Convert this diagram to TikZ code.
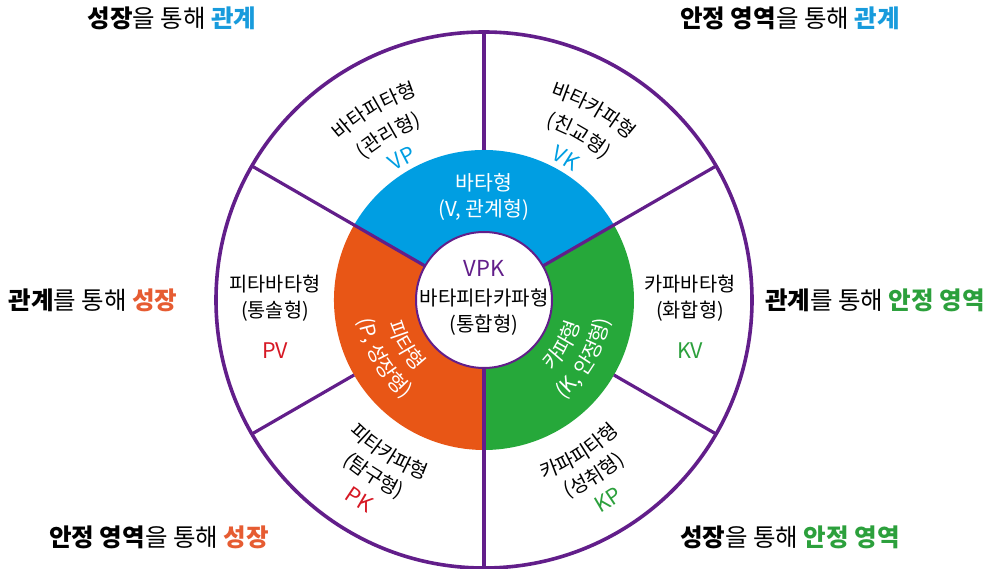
\documentclass[tikz,border=0pt]{standalone}
\usepackage{fontspec}
\setmainfont{Noto Sans CJK KR}
\usetikzlibrary{decorations.text}
\definecolor{vpurple}{RGB}{98,30,138}
\definecolor{vblue}{RGB}{0,158,226}
\definecolor{vorange}{RGB}{232,86,22}
\definecolor{vgreen}{RGB}{38,168,58}
\definecolor{vred}{RGB}{214,24,36}
\definecolor{torange}{RGB}{230,92,50}
\definecolor{tgreen}{RGB}{44,160,60}
\definecolor{tblue}{RGB}{24,155,220}
\newcommand{\vfs}[1]{\fontsize{#1}{#1}\selectfont}
% radius, start angle, end angle, text
\newcommand{\arctext}[4]{\path[decorate,decoration={text along path,text={#4},text align=center}] (#2:#1) arc[start angle=#2,end angle=#3,radius=#1];}
\begin{document}
\begin{tikzpicture}[x=1pt,y=1pt,
  divider/.style={draw=vpurple,line width=3.2pt},
  corner/.style={font=\vfs{24.5},inner sep=0pt,anchor=center},
  lbl/.style={font=\vfs{19.7},inner sep=0pt},
  codelbl/.style={font=\vfs{21.5},inner sep=0pt},
  ringlbl/.style={font=\vfs{20.5},inner sep=0pt,text=white}]
\useasboundingbox (-484,-269) rectangle (508,300);
% coloured sectors
\fill[vblue] (0,0) -- (30:150) arc[start angle=30,end angle=150,radius=150] -- cycle;
\fill[vorange] (0,0) -- (150:150) arc[start angle=150,end angle=270,radius=150] -- cycle;
\fill[vgreen] (0,0) -- (270:150) arc[start angle=270,end angle=390,radius=150] -- cycle;
% circles
\node[circle,draw=vpurple,line width=3.6pt,minimum size=536pt,inner sep=0pt,outer sep=0pt] (outer) at (0,0) {};
\node[circle,minimum size=300pt,inner sep=0pt,outer sep=0pt] (ring) at (0,0) {};
\node[circle,draw=vpurple,line width=2pt,fill=white,minimum size=136pt,inner sep=0pt,outer sep=0pt] (vpk) at (0,0) {};
% dividers
\draw[divider] (vpk.30) -- (outer.30);
\draw[divider] (vpk.150) -- (outer.150);
\draw[divider] (vpk.270) -- (outer.270);
\draw[divider] (ring.90) -- (outer.90);
\draw[divider] (ring.210) -- (outer.210);
\draw[divider] (ring.330) -- (outer.330);
% centre texts
\node[font=\vfs{22},text=vpurple,inner sep=0pt] (c1) at (0,32) {VPK};
\node[font=\vfs{20},inner sep=0pt] (c2) at (0,2) {바타피타카파형};
\node[font=\vfs{20},inner sep=0pt] (c3) at (0,-25) {(통합형)};
% blue sector
\node[ringlbl] (b1) at (0,117) {바타형};
\node[ringlbl] (b2) at (0,90) {(V, 관계형)};
% orange sector (tops inward)
\arctext{99}{160}{260}{|\vfs{20.5}\color{white}|피타형}
\arctext{127}{160}{260}{|\vfs{20.5}\color{white}|(P, 성장형)}
% green sector
\arctext{99}{280}{380}{|\vfs{20.5}\color{white}|카파형}
\arctext{127}{280}{380}{|\vfs{20.5}\color{white}|(K, 안정형)}
% VP sector
\arctext{215}{170}{70}{|\vfs{19.7}|바타피타형}
\arctext{185}{170}{70}{|\vfs{19.7}|(관리형)}
\arctext{156}{170}{70}{|\vfs{21.5}\color{vblue}|VP}
% VK sector
\arctext{215}{110}{10}{|\vfs{19.7}|바타카파형}
\arctext{185}{110}{10}{|\vfs{19.7}|(친교형)}
\arctext{156}{110}{10}{|\vfs{21.5}\color{vblue}|VK}
% PK sector
\arctext{189}{188}{288}{|\vfs{19.7}|피타카파형}
\arctext{215}{188}{288}{|\vfs{19.7}|(탐구형)}
\arctext{243}{188}{288}{|\vfs{21.5}\color{vred}|PK}
% KP sector
\arctext{189}{252}{352}{|\vfs{19.7}|카파피타형}
\arctext{215}{252}{352}{|\vfs{19.7}|(성취형)}
\arctext{243}{252}{352}{|\vfs{21.5}\color{tgreen}|KP}
% PV sector
\node[lbl] (pv1) at (-209,16) {피타바타형};
\node[lbl] (pv2) at (-209,-11) {(통솔형)};
\node[codelbl,text=vred] (pv3) at (-209,-51) {PV};
% KV sector
\node[lbl] (kv1) at (206,16) {카파바타형};
\node[lbl] (kv2) at (206,-11) {(화합형)};
\node[codelbl,text=tgreen] (kv3) at (206,-51) {KV};
% corner texts
\node[corner] (t1) at (-312,282) {\textbf{성장}을 통해 \textbf{\color{tblue}관계}};
\node[corner] (t2) at (306,282) {\textbf{안정 영역}을 통해 \textbf{\color{tblue}관계}};
\node[corner] (t3) at (-391,0) {\textbf{관계}를 통해 \textbf{\color{torange}성장}};
\node[corner] (t4) at (391,0) {\textbf{관계}를 통해 \textbf{\color{tgreen}안정 영역}};
\node[corner] (t5) at (-325,-237) {\textbf{안정 영역}을 통해 \textbf{\color{torange}성장}};
\node[corner] (t6) at (306,-237) {\textbf{성장}을 통해 \textbf{\color{tgreen}안정 영역}};
\end{tikzpicture}
\end{document}
